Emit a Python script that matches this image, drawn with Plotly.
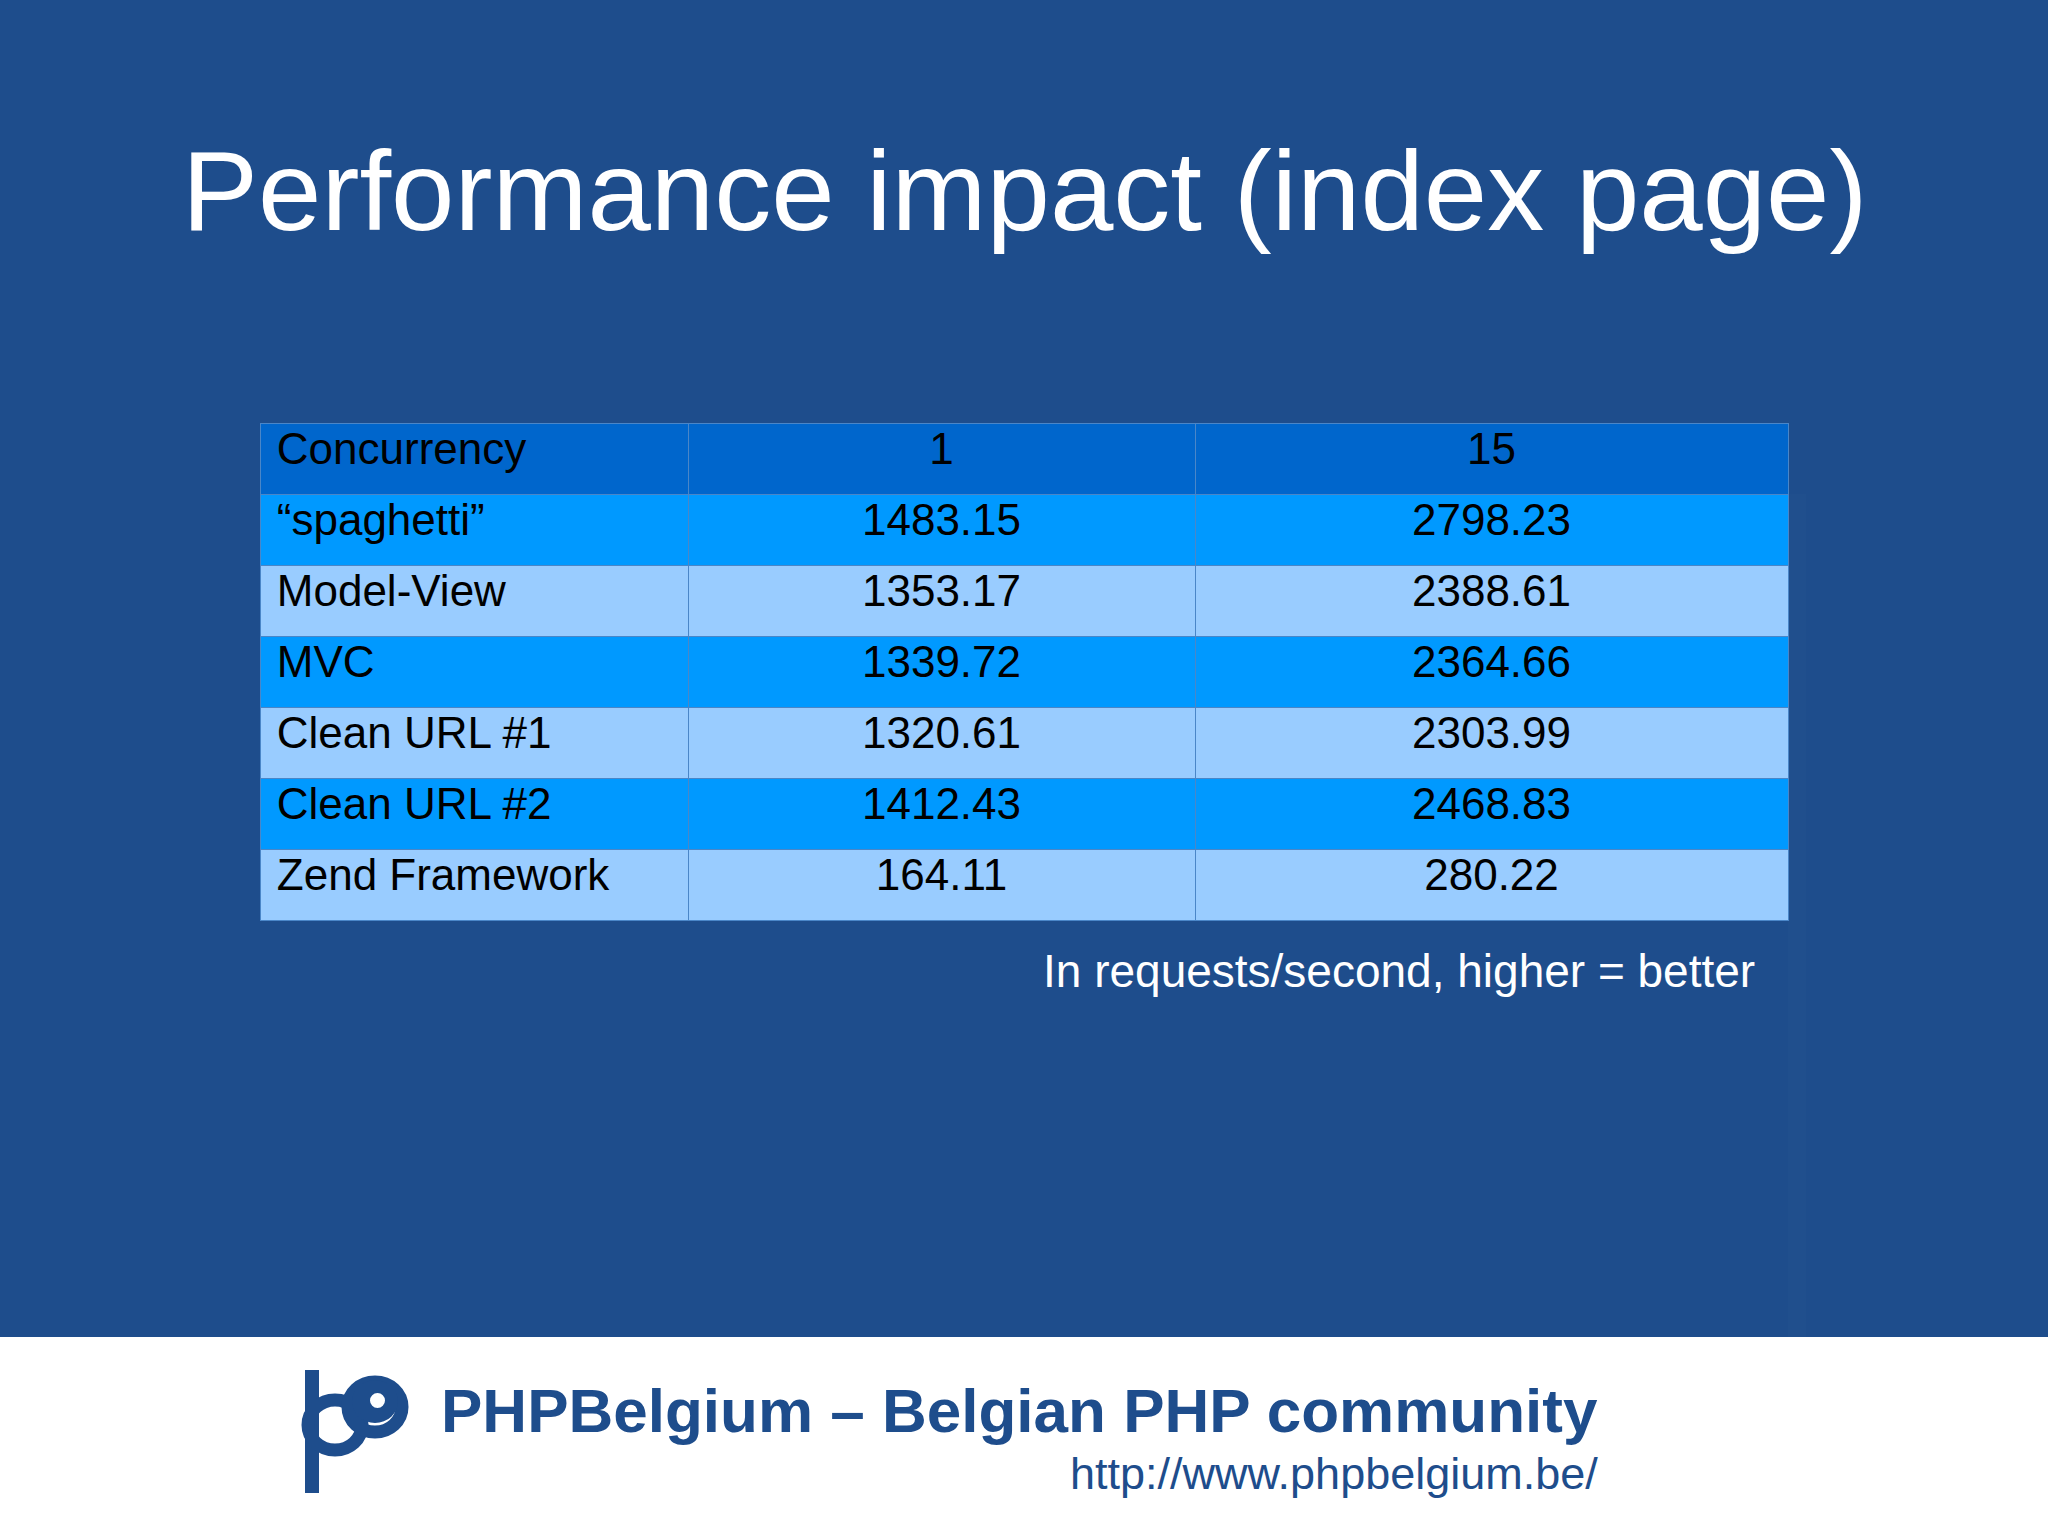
import plotly.graph_objects as go

header = ["Concurrency", "1", "15"]
rows = ["\u201cspaghetti\u201d", "Model-View", "MVC", "Clean URL #1", "Clean URL #2", "Zend Framework"]
c1 = ["1483.15", "1353.17", "1339.72", "1320.61", "1412.43", "164.11"]
c15 = ["2798.23", "2388.61", "2364.66", "2303.99", "2468.83", "280.22"]

W, H = 2048, 1535
BG = "#1e4d8c"
font = "Liberation Sans, Arial, sans-serif"
fills = ["#0099ff" if i % 2 == 0 else "#99ccff" for i in range(len(rows))]
pad = "\u2009"

fig = go.Figure(go.Table(
    domain=dict(x=[260/W, 1788/W], y=[0, 1-423/H]),
    columnwidth=[428, 507, 593],
    header=dict(values=[pad + header[0]] + header[1:], fill_color="#0066cc", height=71,
                align=["left", "center", "center"], line=dict(color="#4a86c8", width=1),
                font=dict(family=font, size=44, color="black")),
    cells=dict(values=[[pad + r for r in rows], c1, c15], fill_color=[fills]*3, height=71,
               align=["left", "center", "center"], line=dict(color="#4a86c8", width=1),
               font=dict(family=font, size=44, color="black")),
))

def px(x): return x / W
def py(y): return 1 - y / H

shapes = [dict(type="rect", xref="paper", yref="paper", x0=0, x1=1, y0=0, y1=py(1337),
               fillcolor="white", line=dict(width=0), layer="below"),
          dict(type="line", xref="paper", yref="paper", x0=px(312), x1=px(312), y0=py(1370), y1=py(1493),
               line=dict(color="#1e4d8c", width=14)),
          dict(type="circle", xref="paper", yref="paper", x0=px(308), x1=px(362), y0=py(1400), y1=py(1450),
               line=dict(color="#1e4d8c", width=13)),
          dict(type="circle", xref="paper", yref="paper", x0=px(348), x1=px(402), y0=py(1382), y1=py(1432),
               line=dict(color="#1e4d8c", width=13)),
          dict(type="circle", xref="paper", yref="paper", x0=px(352), x1=px(398), y0=py(1380), y1=py(1423),
               fillcolor="#1e4d8c", line=dict(width=0)),
          dict(type="circle", xref="paper", yref="paper", x0=px(370), x1=px(385), y0=py(1393), y1=py(1408),
               fillcolor="white", line=dict(width=0)),
          ]

ann = [
    dict(text="Performance impact (index page)", x=0.5, y=py(190), xanchor="center", yanchor="middle",
         font=dict(family=font, size=114, color="white")),
    dict(text="In requests/second, higher = better", x=px(1757), y=py(971), xanchor="right", yanchor="middle",
         font=dict(family=font, size=46, color="white")),
    dict(text="<b>PHPBelgium \u2013 Belgian PHP community</b>", x=px(1600), y=py(1410), xanchor="right", yanchor="middle",
         font=dict(family=font, size=62, color="#1e4d8c")),
    dict(text="http://www.phpbelgium.be/", x=px(1600), y=py(1473), xanchor="right", yanchor="middle",
         font=dict(family=font, size=45, color="#1e4d8c")),
]
for a in ann:
    a.update(xref="paper", yref="paper", showarrow=False)

fig.update_layout(width=W, height=H, margin=dict(l=0, r=0, t=0, b=0),
                  paper_bgcolor=BG, plot_bgcolor=BG, shapes=shapes, annotations=ann)
fig.write_html("out.html", config={"displayModeBar": False},
               post_script="document.body.style.margin='0';")
